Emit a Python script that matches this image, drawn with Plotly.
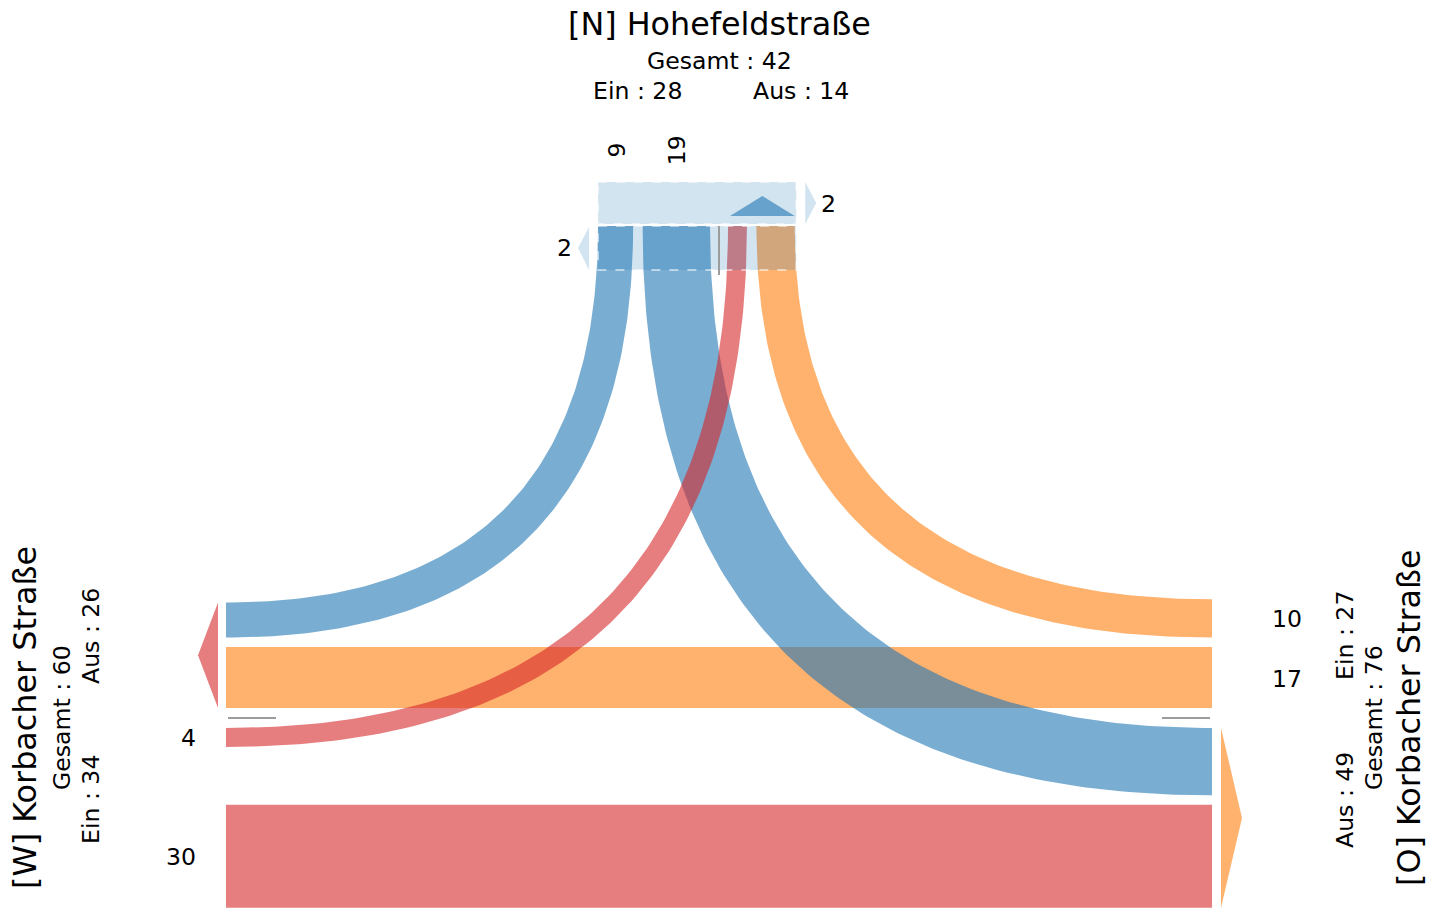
import numpy as np
import plotly.graph_objects as go

# ---------------- data ----------------
arm_codes = ["N", "W", "O"]
arm_titles = ["[N] Hohefeldstraße", "[W] Korbacher Straße", "[O] Korbacher Straße"]
flow_from = ["N", "N", "W", "W", "O", "O"]
flow_to = ["W", "O", "N", "O", "W", "N"]
flow_vals = [9, 19, 4, 30, 17, 10]
n_side_vals = [2, 2]  # left / right side arrows at the N arm

# ---------------- styling ----------------
FONT = "DejaVu Sans"
arm_rgb = {"N": (31, 119, 180), "W": (214, 39, 40), "O": (255, 127, 14)}


def rgba(c, a):
    return "rgba(%d,%d,%d,%.2f)" % (c[0], c[1], c[2], a)


W_CANVAS, H_CANVAS = 1439, 909
X_W, X_O, Y_N = 226, 1212, 226      # ends of the W / O / N arms
Y_D, X_D = 718, 719                 # lane dividers
GAP, DGAP, NGAP = 9.5, 10, 9


def bw(v):
    return 6 + 3.23 * v


val = {(a, b): v for a, b, v in zip(flow_from, flow_to, flow_vals)}
ein = {a: sum(v for (f, t), v in val.items() if f == a) for a in arm_codes}
aus = {a: sum(v for (f, t), v in val.items() if t == a) for a in arm_codes}

# lanes at W / O (y ranges)
ow_bot = Y_D - DGAP
ow_top = ow_bot - bw(val[("O", "W")])
upper_bot = ow_top - GAP
nw_y = (upper_bot - bw(val[("N", "W")]), upper_bot)
on_y = (upper_bot - bw(val[("O", "N")]), upper_bot)
lower_top = Y_D + DGAP
wn_y = (lower_top, lower_top + bw(val[("W", "N")]))
no_y = (lower_top, lower_top + bw(val[("N", "O")]))
slot = max(bw(val[("W", "N")]), bw(val[("N", "O")]))
wo_y = (lower_top + slot + GAP, lower_top + slot + GAP + bw(val[("W", "O")]))
# lanes at N (x ranges)
no_x = (X_D - NGAP - bw(val[("N", "O")]), X_D - NGAP)
nw_x = (no_x[0] - GAP - bw(val[("N", "W")]), no_x[0] - GAP)
wn_x = (X_D + NGAP, X_D + NGAP + bw(val[("W", "N")]))
on_x = (wn_x[1] + GAP, wn_x[1] + GAP + bw(val[("O", "N")]))


def qbez(p0, p1, p2, n=120):
    t = np.linspace(0, 1, n)[:, None]
    p0, p1, p2 = map(np.asarray, (p0, p1, p2))
    return (1 - t) ** 2 * p0 + 2 * (1 - t) * t * p1 + t ** 2 * p2


def band(a, b):
    pts = np.vstack([a, b[::-1], a[:1]])
    return pts[:, 0], pts[:, 1]


def rect(x0, x1, y0, y1):
    return [x0, x1, x1, x0, x0], [y0, y0, y1, y1, y0]


fig = go.Figure()


def poly(xs, ys, color):
    fig.add_trace(go.Scatter(x=list(xs), y=list(ys), mode="lines", fill="toself",
                             fillcolor=color, line=dict(width=0, color=color),
                             hoverinfo="skip", showlegend=False))


# orange flows (from O)
poly(*rect(X_W, X_O, ow_top, ow_bot), rgba(arm_rgb["O"], 0.6))
poly(*band(qbez((X_O, on_y[0]), (on_x[1], on_y[0]), (on_x[1], Y_N)),
           qbez((X_O, on_y[1]), (on_x[0], on_y[1]), (on_x[0], Y_N))), rgba(arm_rgb["O"], 0.6))
# blue flows (from N)
poly(*band(qbez((nw_x[0], Y_N), (nw_x[0], nw_y[0]), (X_W, nw_y[0])),
           qbez((nw_x[1], Y_N), (nw_x[1], nw_y[1]), (X_W, nw_y[1]))), rgba(arm_rgb["N"], 0.6))
poly(*band(qbez((no_x[1], Y_N), (no_x[1], no_y[0]), (X_O, no_y[0])),
           qbez((no_x[0], Y_N), (no_x[0], no_y[1]), (X_O, no_y[1]))), rgba(arm_rgb["N"], 0.6))
# red flows (from W)
poly(*rect(X_W, X_O, wo_y[0], wo_y[1]), rgba(arm_rgb["W"], 0.6))
poly(*band(qbez((X_W, wn_y[0]), (wn_x[0], wn_y[0]), (wn_x[0], Y_N)),
           qbez((X_W, wn_y[1]), (wn_x[1], wn_y[1]), (wn_x[1], Y_N))), rgba(arm_rgb["W"], 0.6))

# outgoing arrows (triangles)
wy0, wy1 = nw_y[0], ow_bot
poly([X_W - 8, X_W - 28, X_W - 8, X_W - 8], [wy0, (wy0 + wy1) / 2, wy1, wy0], rgba(arm_rgb["W"], 0.6))
oy0, oy1 = no_y[0], wo_y[1]
poly([X_O + 9, X_O + 30, X_O + 9, X_O + 9], [oy0, (oy0 + oy1) / 2, oy1, oy0], rgba(arm_rgb["O"], 0.6))
nx0, nx1 = wn_x[0] + 2, on_x[1]
poly([nx0, (nx0 + nx1) / 2, nx1, nx0], [Y_N - 10, Y_N - 30, Y_N - 10, Y_N - 10], rgba(arm_rgb["N"], 0.6))

# N box side arrows
bx0, bx1 = nw_x[0], on_x[1] + 1.5
light = rgba(arm_rgb["N"], 0.2)
poly([bx1 + 9, bx1 + 20, bx1 + 9, bx1 + 9], [Y_N - 44, Y_N - 23, Y_N - 2, Y_N - 44], light)
poly([bx0 - 9, bx0 - 20, bx0 - 9, bx0 - 9], [Y_N + 1, Y_N + 22, Y_N + 44, Y_N + 1], light)

# N box rectangles (above flows)
for y0, y1 in [(Y_N - 44, Y_N - 2), (Y_N, Y_N + 44)]:
    fig.add_shape(type="rect", x0=bx0, x1=bx1, y0=y0, y1=y1, xref="x", yref="y",
                  fillcolor=light, line=dict(color="rgba(255,255,255,0.7)", width=1.5, dash="dash"),
                  layer="above")

# dividers
gray = "#9c9c9c"
fig.add_shape(type="line", x0=X_W + 2, x1=X_W + 50, y0=Y_D, y1=Y_D, line=dict(color=gray, width=2), layer="above")
fig.add_shape(type="line", x0=X_O - 50, x1=X_O - 2, y0=Y_D, y1=Y_D, line=dict(color=gray, width=2), layer="above")
fig.add_shape(type="line", x0=X_D, x1=X_D, y0=Y_N, y1=Y_N + 49, line=dict(color=gray, width=2), layer="above")


def txt(x, y, s, size, angle=0, xanchor="center"):
    fig.add_annotation(x=x, y=y, text=s, showarrow=False, textangle=angle,
                       xanchor=xanchor, yanchor="middle",
                       font=dict(family=FONT, size=size, color="black"))


BIG, SMALL = 31.8, 23.6
# N labels
txt(X_D, 23, arm_titles[0], BIG)
txt(X_D, 61, "Gesamt : %d" % (ein["N"] + aus["N"]), SMALL)
txt(X_D - 82, 91, "Ein : %d" % ein["N"], SMALL)
txt(X_D + 82, 91, "Aus : %d" % aus["N"], SMALL)
# W labels
txt(24, Y_D, arm_titles[1], BIG, -90)
txt(62, Y_D, "Gesamt : %d" % (ein["W"] + aus["W"]), SMALL, -90)
txt(91, Y_D - 82, "Aus : %d" % aus["W"], SMALL, -90)
txt(91, Y_D + 82, "Ein : %d" % ein["W"], SMALL, -90)
# O labels
txt(1408, Y_D, arm_titles[2], BIG, -90)
txt(1374, Y_D, "Gesamt : %d" % (ein["O"] + aus["O"]), SMALL, -90)
txt(1345, Y_D - 82, "Ein : %d" % ein["O"], SMALL, -90)
txt(1345, Y_D + 82, "Aus : %d" % aus["O"], SMALL, -90)

# flow value labels
txt(sum(nw_x) / 2 + 1, Y_N - 76, str(val[("N", "W")]), SMALL, -90)
txt(sum(no_x) / 2 + 1, Y_N - 76, str(val[("N", "O")]), SMALL, -90)
txt(X_W - 28, sum(wn_y) / 2 + 1, str(val[("W", "N")]), SMALL, 0, "right")
txt(X_W - 28, sum(wo_y) / 2 + 1, str(val[("W", "O")]), SMALL, 0, "right")
txt(X_O + 58, sum(on_y) / 2 + 1, str(val[("O", "N")]), SMALL, 0, "left")
txt(X_O + 58, (ow_top + ow_bot) / 2 + 1, str(val[("O", "W")]), SMALL, 0, "left")
# side arrow labels
txt(bx0 - 34, Y_N + 22, str(n_side_vals[0]), SMALL)
txt(bx1 + 32, Y_N - 22, str(n_side_vals[1]), SMALL)

fig.update_layout(
    width=W_CANVAS, height=H_CANVAS, margin=dict(l=0, r=0, t=0, b=0, pad=0),
    paper_bgcolor="white", plot_bgcolor="white", showlegend=False,
    xaxis=dict(range=[0, W_CANVAS], visible=False, fixedrange=True),
    yaxis=dict(range=[H_CANVAS, 0], visible=False, fixedrange=True),
)

fig.write_html("out.html", config={"displayModeBar": False},
               post_script="document.body.style.margin='0';document.body.style.overflow='hidden';")
